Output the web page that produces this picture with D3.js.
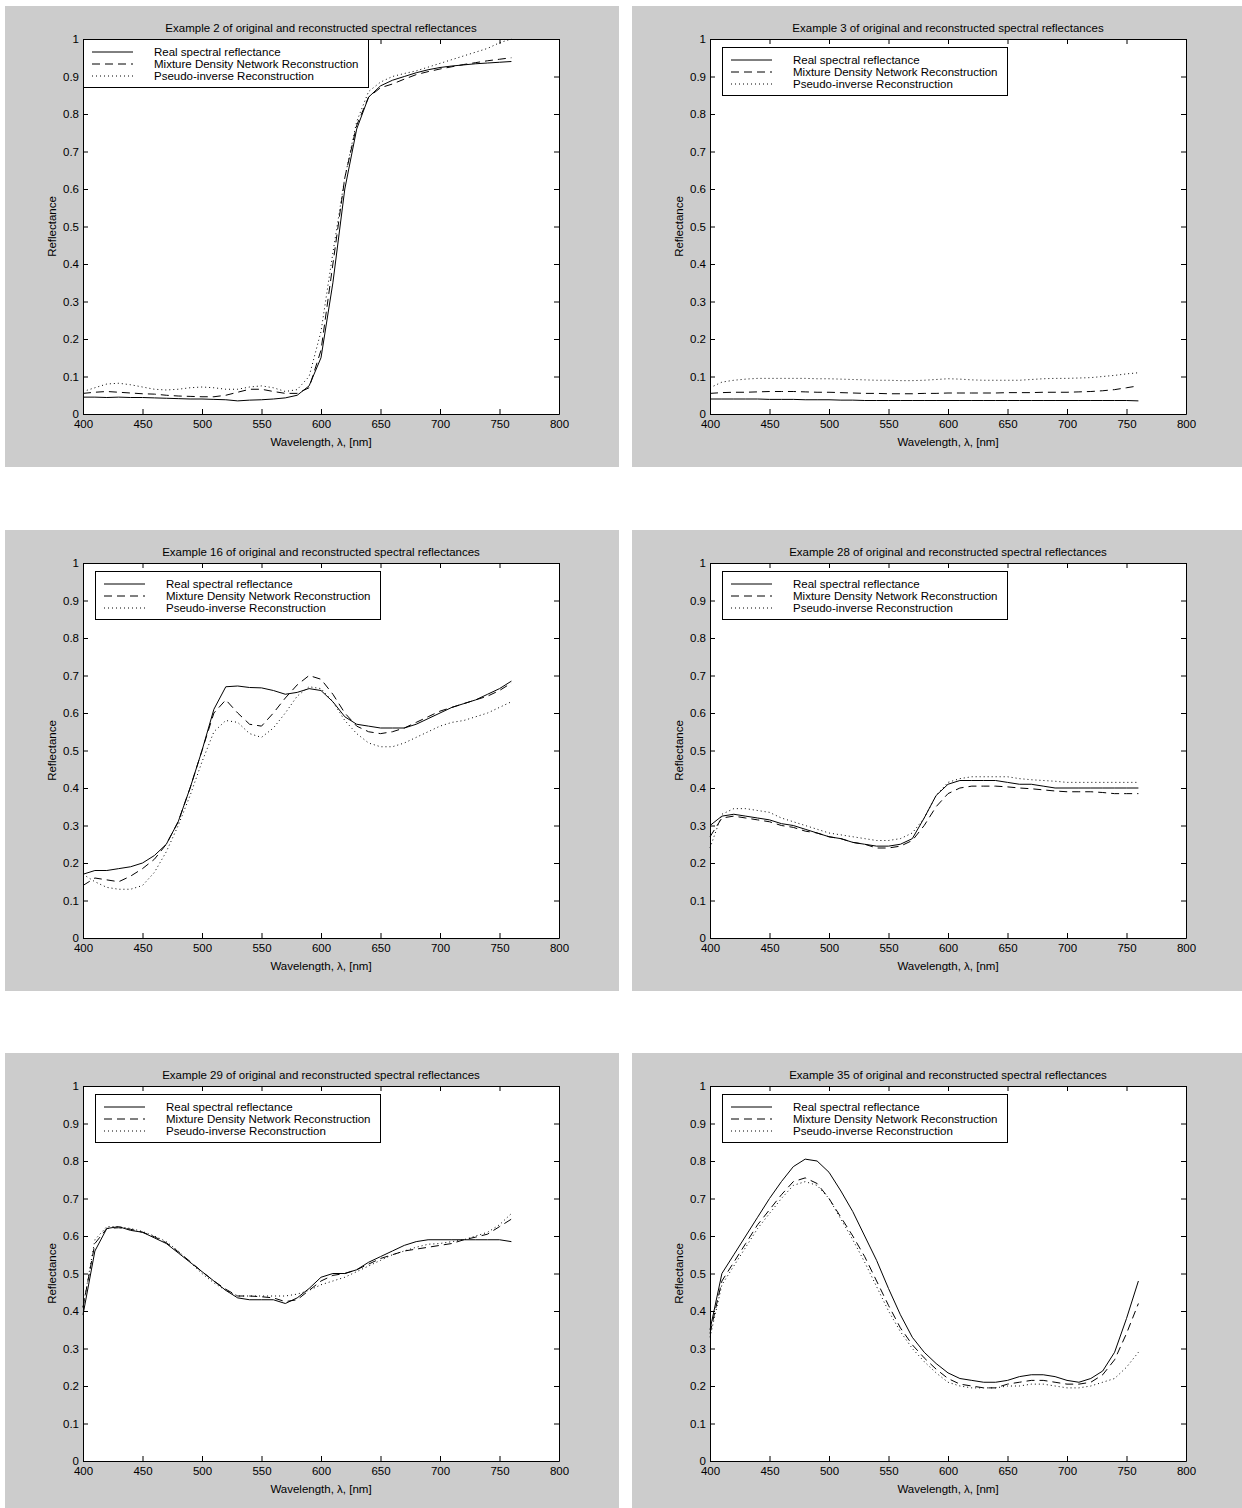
<!DOCTYPE html>
<html>
<head>
<meta charset="utf-8">
<script src="https://cdn.jsdelivr.net/npm/d3@7"></script>
<style>
  body { margin: 0; background: #fff; }
  svg text { font-family: "Liberation Sans", Arial, sans-serif; fill: #000; }
</style>
</head>
<body>
<div id="chart"></div>
<script>
// Wavelengths sampled (nm)
const wavelengths = [400, 410, 420, 430, 440, 450, 460, 470, 480, 490, 500,
  510, 520, 530, 540, 550, 560, 570, 580, 590, 600,
  610, 620, 630, 640, 650, 660, 670, 680, 690, 700,
  710, 720, 730, 740, 750, 760];

const xTicks = [400, 450, 500, 550, 600, 650, 700, 750, 800];
const yTicks = [0, 0.1, 0.2, 0.3, 0.4, 0.5, 0.6, 0.7, 0.8, 0.9, 1];

const seriesNames = ['Real spectral reflectance', 'Mixture Density Network Reconstruction', 'Pseudo-inverse Reconstruction'];
const exampleIds = [2, 3, 16, 28, 29, 35];

// Example 2
const ex2Real = [.045, .045, .044, .045, .044, .044, .043, .042, .041, .04, .04,
  .039, .038, .035, .037, .038, .04, .043, .05, .075, .15,
  .35, .6, .76, .845, .875, .89, .9, .91, .918, .924,
  .928, .931, .934, .936, .938, .94];
const ex2Mdn = [.055, .058, .06, .058, .056, .054, .053, .05, .048, .047, .046,
  .046, .05, .058, .066, .066, .06, .055, .055, .07, .17,
  .4, .63, .77, .845, .87, .88, .893, .905, .913, .92,
  .926, .932, .937, .942, .946, .95];
const ex2Pinv = [.06, .07, .08, .082, .078, .072, .066, .064, .066, .07, .072,
  .07, .066, .066, .072, .075, .07, .06, .065, .1, .22,
  .43, .63, .78, .86, .885, .9, .908, .915, .925, .935,
  .945, .955, .965, .975, .99, 1.0];

// Example 3
const ex3Real = [.04, .04, .04, .04, .04, .039, .039, .039, .038, .038, .038,
  .037, .037, .036, .036, .036, .036, .036, .036, .036, .036,
  .036, .036, .036, .036, .036, .036, .036, .036, .036, .036,
  .036, .036, .036, .036, .036, .035];
const ex3Mdn = [.055, .057, .058, .058, .059, .06, .06, .06, .059, .058, .058,
  .057, .056, .055, .055, .054, .054, .054, .055, .055, .056,
  .056, .056, .056, .056, .057, .057, .057, .058, .058, .058,
  .059, .06, .062, .065, .07, .075];
const ex3Pinv = [.07, .085, .09, .093, .095, .095, .095, .095, .095, .094, .094,
  .093, .092, .091, .09, .09, .089, .089, .09, .092, .094,
  .093, .091, .09, .09, .09, .09, .092, .094, .095, .095,
  .096, .097, .1, .103, .107, .11];

// Example 16
const ex16Real = [.17, .18, .18, .185, .19, .2, .22, .25, .31, .4, .5,
  .61, .67, .672, .668, .667, .66, .65, .655, .665, .66,
  .63, .59, .57, .565, .56, .56, .56, .57, .585, .6,
  .615, .625, .635, .65, .665, .685];
const ex16Mdn = [.14, .16, .155, .15, .165, .185, .21, .25, .31, .4, .5,
  .6, .635, .6, .57, .565, .6, .64, .675, .7, .69,
  .65, .6, .565, .55, .545, .55, .56, .575, .59, .605,
  .615, .625, .635, .645, .66, .68];
const ex16Pinv = [.17, .15, .135, .13, .13, .14, .175, .23, .3, .38, .47,
  .55, .58, .575, .545, .535, .56, .6, .645, .67, .665,
  .63, .58, .545, .52, .51, .51, .52, .535, .55, .565,
  .575, .58, .59, .6, .615, .63];

// Example 28
const ex28Real = [.3, .325, .33, .325, .32, .315, .305, .3, .29, .28, .27,
  .265, .255, .25, .245, .245, .25, .265, .32, .38, .41,
  .42, .42, .42, .42, .415, .41, .41, .405, .4, .4,
  .4, .4, .4, .4, .4, .4];
const ex28Mdn = [.27, .32, .325, .32, .315, .31, .3, .295, .285, .28, .27,
  .265, .255, .25, .24, .24, .245, .26, .3, .35, .385,
  .4, .405, .405, .405, .403, .4, .398, .395, .392, .39,
  .39, .39, .388, .385, .385, .385];
const ex28Pinv = [.24, .33, .345, .345, .34, .335, .32, .31, .3, .29, .28,
  .275, .27, .265, .26, .26, .265, .28, .32, .38, .415,
  .425, .43, .43, .43, .43, .425, .422, .42, .418, .415,
  .415, .415, .415, .415, .415, .415];

// Example 29
const ex29Real = [.39, .56, .62, .625, .615, .61, .595, .58, .555, .53, .505,
  .48, .455, .435, .43, .43, .43, .42, .435, .46, .49,
  .5, .5, .51, .53, .545, .56, .575, .585, .59, .59,
  .59, .59, .59, .59, .59, .585];
const ex29Mdn = [.41, .58, .62, .622, .618, .61, .598, .582, .558, .532, .505,
  .48, .458, .44, .44, .438, .435, .425, .43, .455, .48,
  .495, .5, .51, .525, .54, .55, .56, .565, .57, .575,
  .58, .59, .597, .605, .625, .645];
const ex29Pinv = [.41, .59, .625, .625, .62, .612, .6, .585, .56, .53, .5,
  .475, .455, .44, .44, .44, .44, .44, .445, .455, .47,
  .48, .49, .505, .52, .535, .55, .56, .57, .578, .58,
  .585, .59, .6, .61, .63, .66];

// Example 35
const ex35Real = [.35, .5, .55, .6, .65, .7, .745, .785, .805, .8, .77,
  .72, .665, .6, .535, .46, .39, .33, .29, .26, .235,
  .22, .215, .21, .21, .215, .225, .23, .23, .225, .215,
  .21, .22, .24, .29, .38, .48];
const ex35Mdn = [.34, .48, .53, .58, .63, .67, .71, .745, .755, .74, .7,
  .65, .6, .545, .48, .415, .355, .31, .275, .245, .22,
  .205, .2, .195, .195, .205, .21, .215, .215, .21, .205,
  .205, .21, .23, .27, .34, .42];
const ex35Pinv = [.33, .47, .52, .57, .62, .66, .7, .735, .745, .735, .7,
  .645, .59, .53, .465, .4, .345, .3, .265, .235, .21,
  .2, .195, .195, .195, .2, .2, .205, .205, .2, .195,
  .195, .2, .21, .22, .25, .29];

const exampleSeries = [
  [ex2Real, ex2Mdn, ex2Pinv],
  [ex3Real, ex3Mdn, ex3Pinv],
  [ex16Real, ex16Mdn, ex16Pinv],
  [ex28Real, ex28Mdn, ex28Pinv],
  [ex29Real, ex29Mdn, ex29Pinv],
  [ex35Real, ex35Mdn, ex35Pinv]
];

// layout
const W = 1242, H = 1508;
const colX = [5, 632], colW = [614, 610];
const rowY = [6, 530, 1053], rowH = [461, 461, 455];
const plotOff = { left: 78, top: 33 };
const plotW = 476, plotH = 375;
const dashes = [null, '8,5', '1,3'];
const fs = 11.5;

const svg = d3.select('#chart').append('svg')
  .attr('width', W).attr('height', H);

exampleIds.forEach((id, i) => {
  const col = i % 2, row = Math.floor(i / 2);
  const g = svg.append('g').attr('transform', `translate(${colX[col]},${rowY[row]})`);

  g.append('rect')
    .attr('width', colW[col]).attr('height', rowH[row])
    .attr('fill', '#cccccc');

  const p = g.append('g').attr('transform', `translate(${plotOff.left},${plotOff.top})`);

  const x = d3.scaleLinear().domain([400, 800]).range([0, plotW]);
  const y = d3.scaleLinear().domain([0, 1]).range([plotH, 0]);

  p.append('rect').attr('width', plotW).attr('height', plotH).attr('fill', '#fff');

  // Axes (MATLAB style: ticks inward on all four sides)
  const fmt = d => d;
  p.append('g').attr('class', 'ax')
    .attr('transform', `translate(0,${plotH})`)
    .call(d3.axisBottom(x).tickValues(xTicks).tickFormat(fmt).tickSizeInner(-5).tickSizeOuter(0).tickPadding(6));
  p.append('g').attr('class', 'ax')
    .call(d3.axisTop(x).tickValues(xTicks).tickFormat('').tickSizeInner(-5).tickSizeOuter(0));
  p.append('g').attr('class', 'ax')
    .call(d3.axisLeft(y).tickValues(yTicks).tickFormat(fmt).tickSizeInner(-5).tickSizeOuter(0).tickPadding(4));
  p.append('g').attr('class', 'ax')
    .attr('transform', `translate(${plotW},0)`)
    .call(d3.axisRight(y).tickValues(yTicks).tickFormat('').tickSizeInner(-5).tickSizeOuter(0));

  p.selectAll('.ax text').attr('font-size', fs).attr('font-family', '"Liberation Sans", Arial, sans-serif').attr('fill', '#000');
  p.selectAll('.ax .tick line').attr('stroke', '#000');
  p.selectAll('.ax .domain').attr('stroke', '#000');

  // Lines
  const line = d3.line()
    .x((d, k) => x(wavelengths[k]))
    .y(d => y(d));

  exampleSeries[i].forEach((vals, s) => {
    p.append('path')
      .datum(vals)
      .attr('fill', 'none')
      .attr('stroke', '#000')
      .attr('stroke-width', 1)
      .attr('stroke-dasharray', dashes[s])
      .attr('d', line);
  });

  // Legend
  const lg = i === 0 ? { x: 0, y: 0 } : { x: 12, y: 8 };
  const leg = p.append('g').attr('transform', `translate(${lg.x},${lg.y})`);
  leg.append('rect')
    .attr('x', 0.5).attr('y', 0.5)
    .attr('width', 285).attr('height', 48)
    .attr('fill', '#fff').attr('stroke', '#000');
  seriesNames.forEach((name, s) => {
    const ly = 13 + s * 12;
    leg.append('line')
      .attr('x1', 9).attr('x2', 50)
      .attr('y1', ly).attr('y2', ly)
      .attr('stroke', '#000')
      .attr('stroke-dasharray', dashes[s]);
    leg.append('text')
      .attr('x', 71).attr('y', ly + 4)
      .attr('font-size', fs)
      .text(name);
  });

  // Title and labels
  p.append('text')
    .attr('x', plotW / 2).attr('y', -7)
    .attr('text-anchor', 'middle')
    .attr('font-size', fs)
    .text(`Example ${id} of original and reconstructed spectral reflectances`);

  p.append('text')
    .attr('x', plotW / 2).attr('y', plotH + 32)
    .attr('text-anchor', 'middle')
    .attr('font-size', fs)
    .text('Wavelength, λ, [nm]');

  p.append('text')
    .attr('transform', `translate(-27,${plotH / 2}) rotate(-90)`)
    .attr('text-anchor', 'middle')
    .attr('font-size', fs)
    .text('Reflectance');
});
</script>
</body>
</html>
